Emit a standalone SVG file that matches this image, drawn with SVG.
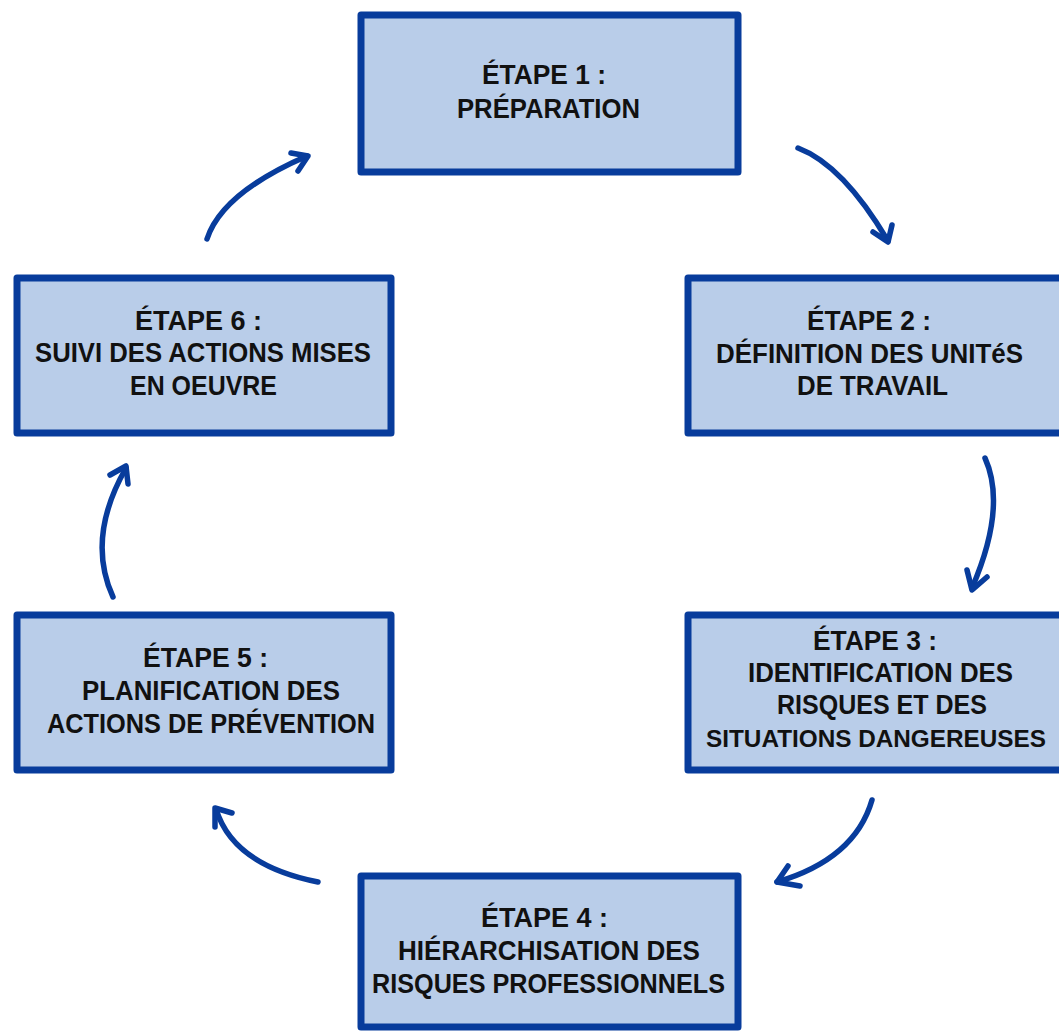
<svg xmlns="http://www.w3.org/2000/svg" width="1059" height="1032" viewBox="0 0 1059 1032">
<defs>
<style>
.box{fill:#b9cde9;stroke:#083c9c;stroke-width:7;stroke-linejoin:round}
.lbl{font-family:"Liberation Sans","DejaVu Sans",sans-serif;font-weight:700;font-size:27px;fill:#111}
.sm{font-size:24px}
.con{fill:none;stroke:#083c9c;stroke-width:5.5;stroke-linecap:round;stroke-linejoin:round}
</style>
</defs>
<rect width="1059" height="1032" fill="#fff"/>
<g id="connectors">
<path class="con" d="M798,148 Q843,165 888,241"/>
<path class="con" d="M873,232 L888,242 L892,225"/>
<path class="con" d="M985,458 Q1007,507 972,588"/>
<path class="con" d="M967,570 L972,590 L987,577"/>
<path class="con" d="M872,800 Q855,859 777,882"/>
<path class="con" d="M788,866 L777,882 L800,886"/>
<path class="con" d="M318,882 Q233,865 216,809"/>
<path class="con" d="M215,827 L215,808 L232,813"/>
<path class="con" d="M113,597 Q86,538 126,468"/>
<path class="con" d="M110,475 L126,466 L128,484"/>
<path class="con" d="M207,239 Q222,193 307,156"/>
<path class="con" d="M291,153 L308,156 L298,171"/>
</g>
<g id="step1">
<rect class="box" x="361" y="15" width="377" height="157"/>
<text class="lbl" x="482" y="84" textLength="124" lengthAdjust="spacingAndGlyphs">ÉTAPE 1 :</text>
<text class="lbl" x="457" y="118" textLength="183" lengthAdjust="spacingAndGlyphs">PRÉPARATION</text>
</g>
<g id="step2">
<rect class="box" x="688" y="278" width="380" height="155"/>
<text class="lbl" x="807" y="330" textLength="124" lengthAdjust="spacingAndGlyphs">ÉTAPE 2 :</text>
<text class="lbl" x="716" y="363" textLength="307" lengthAdjust="spacingAndGlyphs">DÉFINITION DES UNITéS</text>
<text class="lbl" x="797" y="395" textLength="151" lengthAdjust="spacingAndGlyphs">DE TRAVAIL</text>
</g>
<g id="step3">
<rect class="box" x="688" y="615" width="380" height="155"/>
<text class="lbl" x="813" y="650" textLength="124" lengthAdjust="spacingAndGlyphs">ÉTAPE 3 :</text>
<text class="lbl" x="748" y="682" textLength="265" lengthAdjust="spacingAndGlyphs">IDENTIFICATION DES</text>
<text class="lbl" x="777" y="714" textLength="210" lengthAdjust="spacingAndGlyphs">RISQUES ET DES</text>
<text class="lbl sm" x="706" y="747" textLength="340" lengthAdjust="spacingAndGlyphs">SITUATIONS DANGEREUSES</text>
</g>
<g id="step4">
<rect class="box" x="361" y="876" width="377" height="151"/>
<text class="lbl" x="481" y="927" textLength="127" lengthAdjust="spacingAndGlyphs">ÉTAPE 4 :</text>
<text class="lbl" x="398" y="960" textLength="302" lengthAdjust="spacingAndGlyphs">HIÉRARCHISATION  DES</text>
<text class="lbl" x="372" y="993" textLength="353" lengthAdjust="spacingAndGlyphs">RISQUES PROFESSIONNELS</text>
</g>
<g id="step5">
<rect class="box" x="17" y="615" width="374" height="155"/>
<text class="lbl" x="143" y="667" textLength="125" lengthAdjust="spacingAndGlyphs">ÉTAPE 5 :</text>
<text class="lbl" x="82" y="700" textLength="258" lengthAdjust="spacingAndGlyphs">PLANIFICATION DES</text>
<text class="lbl" x="47" y="733" textLength="328" lengthAdjust="spacingAndGlyphs">ACTIONS DE PRÉVENTION</text>
</g>
<g id="step6">
<rect class="box" x="17" y="278" width="374" height="155"/>
<text class="lbl" x="135" y="330" textLength="127" lengthAdjust="spacingAndGlyphs">ÉTAPE 6 :</text>
<text class="lbl" x="35" y="362" textLength="336" lengthAdjust="spacingAndGlyphs">SUIVI DES ACTIONS MISES</text>
<text class="lbl" x="130" y="395" textLength="147" lengthAdjust="spacingAndGlyphs">EN OEUVRE</text>
</g>
</svg>
